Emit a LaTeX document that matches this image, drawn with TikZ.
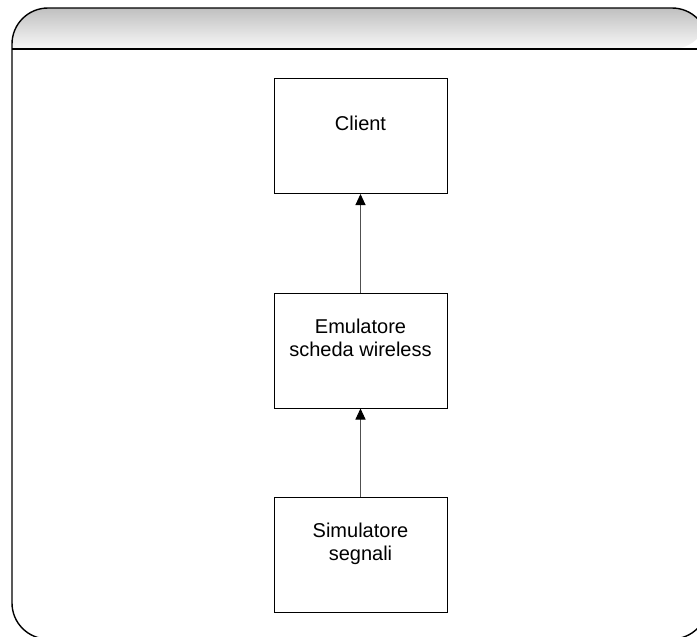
\documentclass[tikz,border=0pt]{standalone}
\usepackage{fontspec}
\setmainfont{Liberation Sans}
\usetikzlibrary{arrows.meta}

\definecolor{hdtop}{RGB}{192,192,192}
\definecolor{hdbot}{RGB}{248,248,248}
\definecolor{wire}{RGB}{80,80,80}

\tikzset{
  blockbox/.style={draw=black, line width=1pt, minimum width=173pt,
    minimum height=115pt, inner sep=0pt, fill=white},
  blocktext/.style={align=center, inner sep=0pt,
    font=\fontsize{20}{23}\selectfont},
  flow/.style={draw=wire, line width=1pt,
    -{Triangle[width=10pt,length=11pt,color=black]}},
  frameline/.style={draw=black, line width=1.4pt}
}

\begin{document}
\begin{tikzpicture}[x=1pt, y=-1pt]
  \useasboundingbox (0,0) rectangle (697,637);
  \clip (0,0) rectangle (697,637);

  % window frame with shaded title bar (rounded only at the top)
  \shade[top color=hdtop, bottom color=hdbot]
    (12,49) [rounded corners=36pt] -- (12,8) -- (708,8) -- (708,49)
    [sharp corners] -- cycle;
  \draw[frameline, rounded corners=36pt] (12,8) rectangle (708,639);
  \draw[frameline] (12,49) -- (708,49);

  % blocks
  \node[blockbox] (client) at (360.5,136) {};
  \node[blockbox] (emu)    at (360.5,350.5) {};
  \node[blockbox] (sim)    at (360.5,554.5) {};

  \node[blocktext] (clientlbl) at ([yshift=-48pt]client.north) {\strut Client};
  \node[blocktext] (emulbl)    at ([yshift=-48pt]emu.north)
    {\strut Emulatore\\\strut scheda wireless};
  \node[blocktext] (simlbl)    at ([yshift=-48pt]sim.north)
    {\strut Simulatore\\\strut segnali};

  % data flow
  \draw[flow] (emu.north) -- (client.south);
  \draw[flow] (sim.north) -- (emu.south);
\end{tikzpicture}
\end{document}
